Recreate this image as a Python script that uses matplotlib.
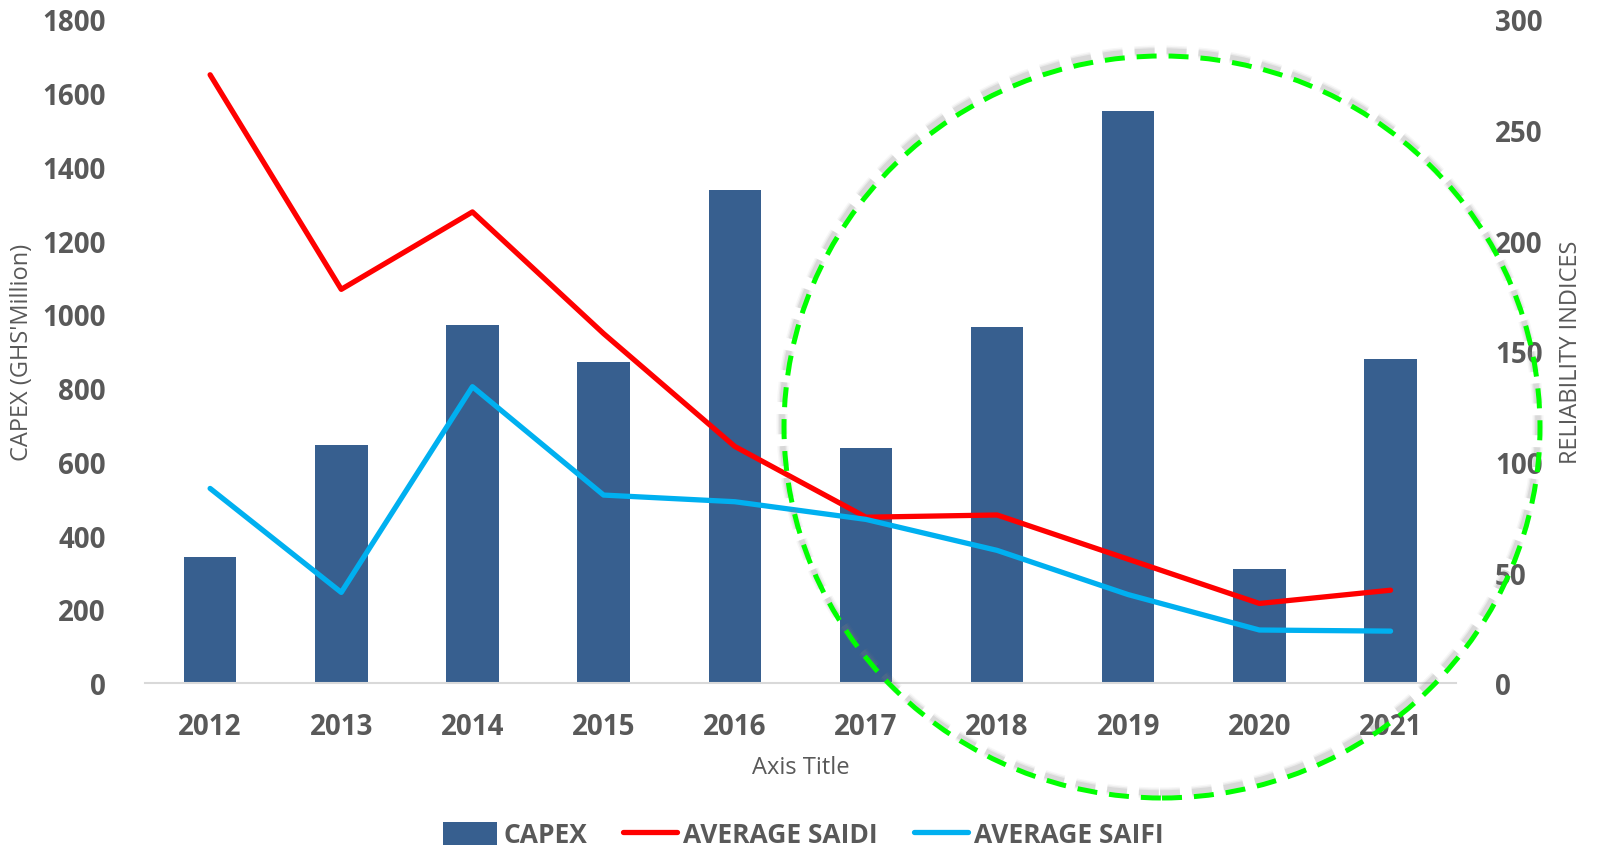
import matplotlib
matplotlib.use("Agg")
import matplotlib.pyplot as plt
from matplotlib.patches import Ellipse, Patch
from matplotlib.lines import Line2D
import matplotlib.transforms as mtransforms
import numpy as np

years = ["2012", "2013", "2014", "2015", "2016", "2017", "2018", "2019", "2020", "2021"]
capex = [342, 645, 970, 870, 1338, 637, 967, 1552, 310, 878]
saidi = [275, 178, 213, 158, 107, 75, 76, 56, 36, 42]
saifi = [88, 41, 134, 85, 82, 74, 60, 40, 24, 23.5]

bar_color = "#375F8F"
red = "#FF0000"
blue = "#00B0F0"
gray = "#595959"

plt.rcParams["font.family"] = ["Open Sans", "DejaVu Sans"]

fig = plt.figure(figsize=(15.97, 8.53), dpi=100)
ax = fig.add_axes([0.0905, 0.198, 0.8213, 0.778])
x = np.arange(len(years))
ax.bar(x, capex, width=0.4, color=bar_color, zorder=2)
ax.set_xlim(-0.5, len(years) - 0.5)
ax.set_ylim(0, 1800)
ax.set_yticks(range(0, 1801, 200))
ax.set_xticks(x)
ax.set_xticklabels(years)

ax2 = ax.twinx()
ax2.plot(x, saidi, color=red, lw=3.8, solid_capstyle="round", solid_joinstyle="round")
ax2.plot(x, saifi, color=blue, lw=3.8, solid_capstyle="round", solid_joinstyle="round")
ax2.set_ylim(0, 300)
ax2.set_yticks(range(0, 301, 50))

for a in (ax, ax2):
    for s in a.spines.values():
        s.set_visible(False)
    a.tick_params(length=0, labelsize=20, labelcolor=gray)
    for lab in a.get_yticklabels() + a.get_xticklabels():
        lab.set_fontweight("bold")
ax.spines["bottom"].set_visible(True)
ax.spines["bottom"].set_color("#D9D9D9")
ax.spines["bottom"].set_linewidth(1.5)
ax.tick_params(axis="y", pad=28)
ax.tick_params(axis="x", pad=21)
ax2.tick_params(axis="y", pad=28)

ax.set_xlabel("Axis Title", fontsize=17, color=gray, labelpad=10)
ax.set_ylabel("CAPEX (GHS'Million)", fontsize=17, color=gray, labelpad=6)
ax2.set_ylabel("RELIABILITY INDICES", fontsize=17, color=gray, labelpad=12)

handles = [Patch(facecolor=bar_color),
           Line2D([0], [0], color=red, lw=3.8, solid_capstyle="round"),
           Line2D([0], [0], color=blue, lw=3.8, solid_capstyle="round")]
fig.legend(handles, ["CAPEX", "AVERAGE SAIDI", "AVERAGE SAIFI"],
           loc="center", bbox_to_anchor=(0.503, 0.02), ncol=3, frameon=False,
           prop={"weight": "bold", "size": 19},
           labelcolor=gray, handlelength=2.05, handleheight=1.0,
           handletextpad=0.23, columnspacing=1.36)

# highlight circle with soft shadow
cx, cy = 1162 / 1597, 1 - 428 / 853
w, h = 756 / 1597, 742 / 853
dash_on, dash_off = 14.4, 8.6  # points
shadow_off = mtransforms.ScaledTranslation(-2 / 100, 5 / 100, fig.dpi_scale_trans)
for lw, al in [(8, 0.06), (6, 0.10), (4, 0.16)]:
    sh = Ellipse((cx, cy), w, h, transform=fig.transFigure + shadow_off,
                 fill=False, edgecolor="#7F7F7F", lw=lw, alpha=al,
                 linestyle=(0, (dash_on / lw, dash_off / lw)))
    fig.add_artist(sh)
circ = Ellipse((cx, cy), w, h, transform=fig.transFigure, fill=False,
               edgecolor="#00FF00", lw=3.6,
               linestyle=(0, (dash_on / 3.6, dash_off / 3.6)))
fig.add_artist(circ)

fig.savefig("out.png", dpi=100)
